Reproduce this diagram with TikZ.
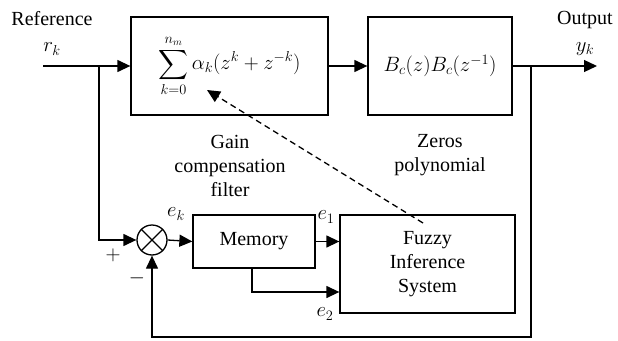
\documentclass[tikz,border=0pt]{standalone}
\usepackage{amsmath}
\usepackage{exscale}
\usepackage{fontspec}
\setmainfont{Liberation Serif}
\usetikzlibrary{arrows.meta,calc}
\begin{document}
\begin{tikzpicture}[x=1pt,y=-1pt,
  every node/.style={font=\fontsize{20}{24}\selectfont},
  blk/.style={draw,line width=1.3pt,minimum width=#1,inner sep=0pt},
  wire/.style={line width=1.3pt},
  arr/.style={wire,-{Triangle[length=13pt,width=12pt]}},
  lbl/.style={align=center,inner sep=0pt}]
\useasboundingbox (0,0) rectangle (618,340);
% blocks
\node[blk=197pt,minimum height=98pt] (sumf) at (229.5,66) {$\displaystyle\sum_{k=0}^{n_m}\alpha_k(z^k+z^{-k})$};
\node[blk=144pt,minimum height=98pt] (zeros) at (440,66) {$B_c(z)B_c(z^{-1})$};
\node[blk=122pt,minimum height=53pt] (mem) at (254,241.5) {Memory};
\node[blk=175pt,minimum height=98pt,align=center,font=\fontsize{20}{24}\selectfont] (fis) at (427.5,264) {Fuzzy\\Inference\\System};
\node[draw,circle,line width=1.3pt,minimum size=30pt,inner sep=0pt] (sj) at (152,240) {};
\draw[line width=1.1pt] (sj.45) -- (sj.225) (sj.135) -- (sj.315);
% coordinates
\coordinate (in) at (43,66);
\coordinate (b1) at (99,66);
\coordinate (b1d) at (99,240);
\coordinate (b2) at (531,66);
\coordinate (out) at (597,66);
\coordinate (fbr) at (531,337);
\coordinate (fbl) at (152,337);
\coordinate (mb) at (252,268);
\coordinate (mbd) at (252,292);
\coordinate (ds) at (423,223);
\coordinate (de) at (207,90);
% connectors
\draw[arr] (in) -- (sumf.west);
\draw[arr] (sumf.east) -- (zeros.west);
\draw[arr] (zeros.east) -- (out);
\draw[arr] (b1) -- (b1d) -- (sj.west);
\draw[arr] (sj.east) -- (mem.west);
\draw[arr] (mem.east) -- (mem.east -| fis.west);
\draw[arr] (mb) -- (mbd) -- (mbd -| fis.west);
\draw[arr] (b2) -- (fbr) -- (fbl) -- (sj.south);
\draw[wire,dash pattern=on 6pt off 4pt,-{Triangle[length=13pt,width=12pt]}] (ds) -- (de);
% labels
\node[lbl] (lref) at (52,19) {Reference};
\node[lbl] (lrk) at (52,49) {$r_k$};
\node[lbl] (lout) at (585,20) {Output};
\node[lbl] (lyk) at (585,49) {$y_k$};
\node[lbl] (lgain) at (230,166) {Gain\\compensation\\filter};
\node[lbl] (lzeros) at (440,155) {Zeros\\polynomial};
\node[lbl] (lek) at (176,214) {$e_k$};
\node[lbl] (le1) at (326,217) {$e_1$};
\node[lbl] (le2) at (325,314) {$e_2$};
\node[lbl] (lplus) at (113,255) {$+$};
\node[lbl] (lminus) at (137,278) {$-$};
\end{tikzpicture}
\end{document}
